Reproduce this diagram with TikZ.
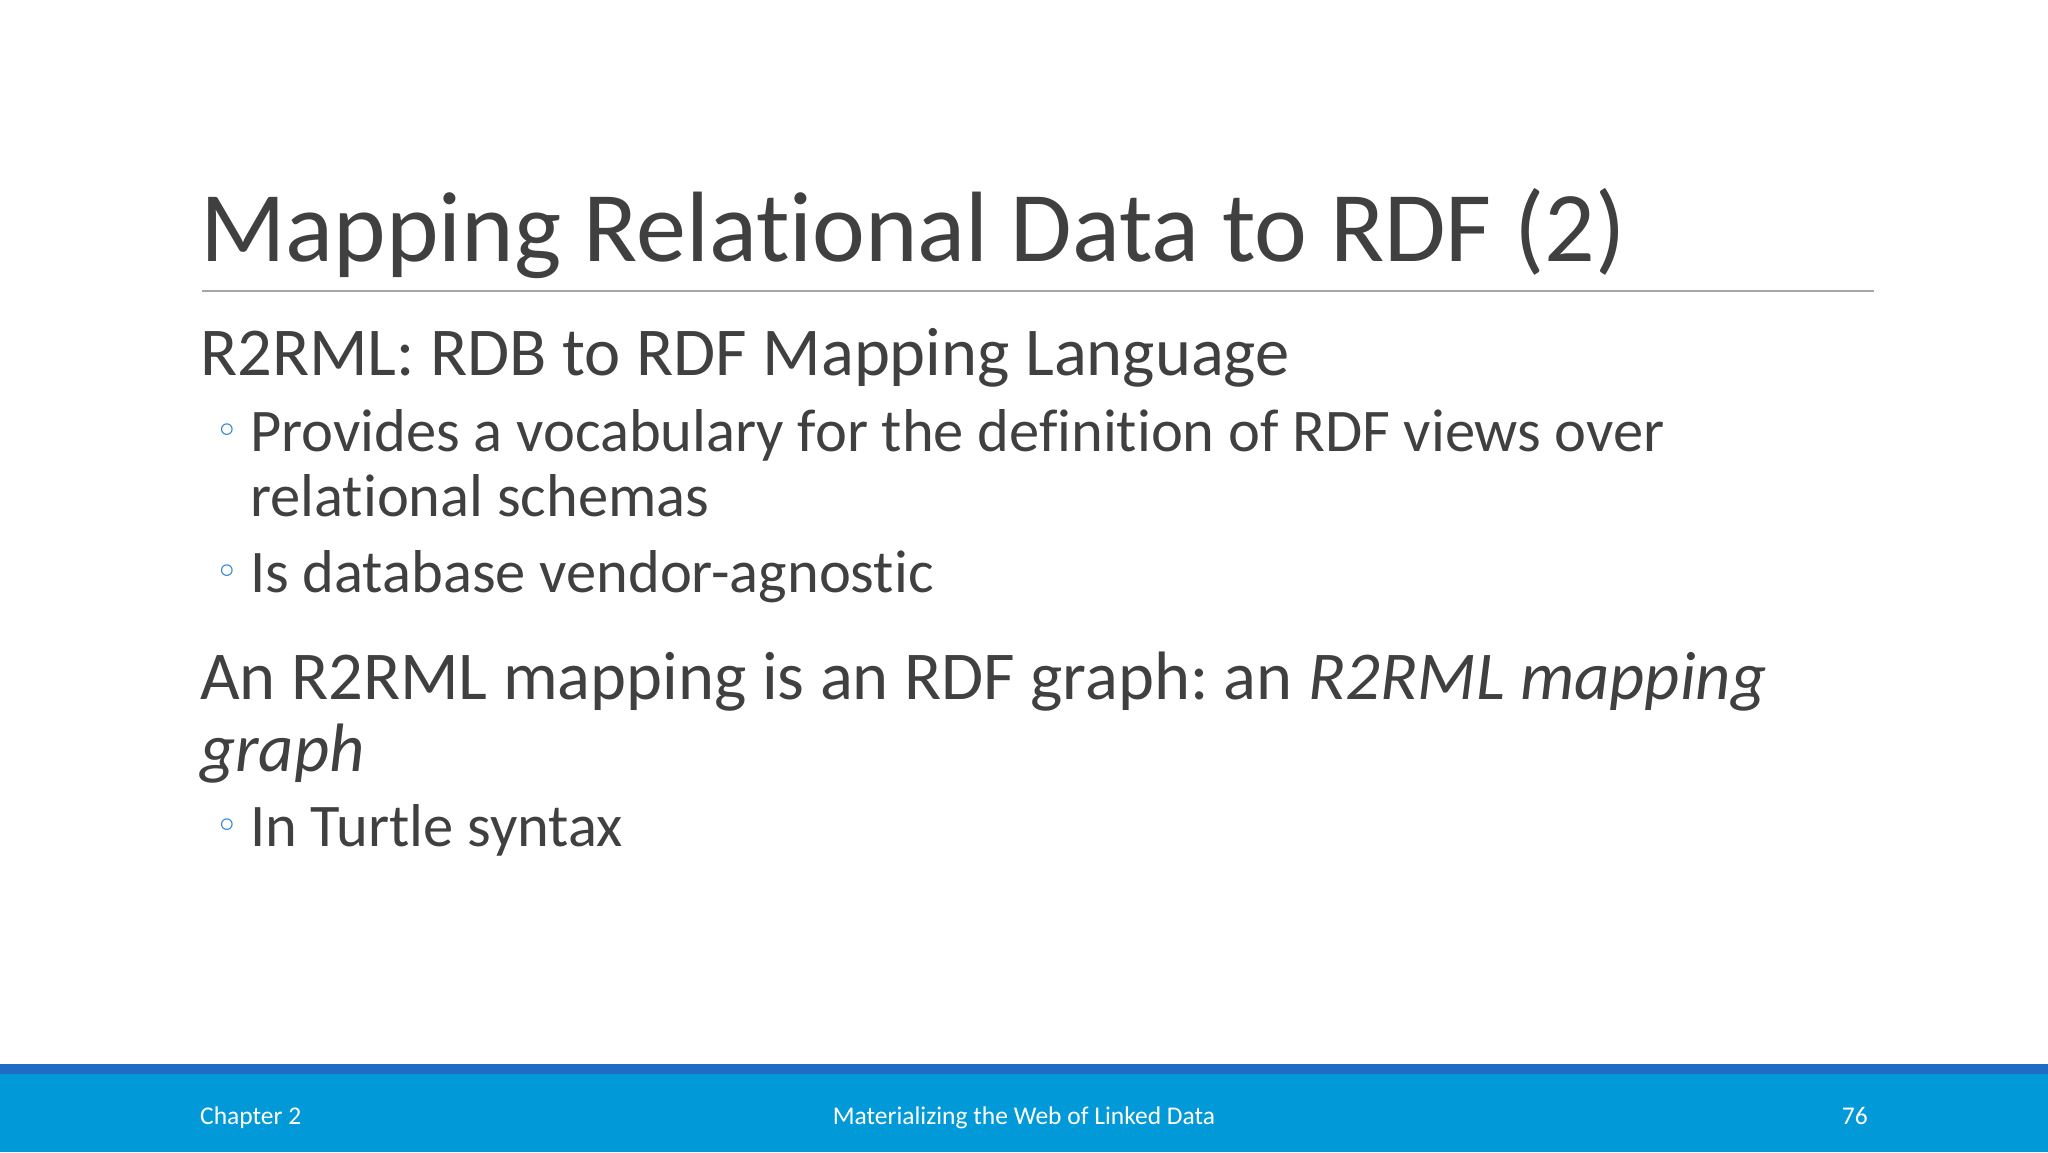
\documentclass[tikz,border=0pt]{standalone}
\usepackage{fontspec}
\setmainfont[Ligatures=NoCommon]{Carlito}
\newfontfamily\symf{DejaVu Sans}
\definecolor{txt}{HTML}{404040}
\definecolor{bul}{HTML}{2A7FCF}
\definecolor{band}{HTML}{0299D8}
\definecolor{bandtop}{HTML}{1F6CC4}
\frenchspacing
\begin{document}
\begin{tikzpicture}[x=1pt,y=-1pt,
  lone/.style={anchor=base west,inner sep=0,text=txt,font=\fontsize{68.5}{82}\selectfont},
  ltwo/.style={anchor=base west,inner sep=0,text=txt,font=\fontsize{60.5}{73}\selectfont},
  bulnode/.style={anchor=base west,inner sep=0,text=bul,font=\symf\fontsize{40}{48}\selectfont},
  foot/.style={anchor=base,inner sep=0,text=white,font=\fontsize{25.5}{30}\selectfont}]
\useasboundingbox (0,0) rectangle (2048,1152);
\fill[white] (0,0) rectangle (2048,1152);
\fill[band] (0,1064) rectangle (2048,1152);
\fill[bandtop] (0,1064) rectangle (2048,1074);
\node[anchor=base west,inner sep=0,text=txt,font=\fontsize{100}{120}\selectfont] (title) at (200,261) {Mapping Relational Data to RDF (2)};
\coordinate (rl) at (202,291); \coordinate (rr) at (1874,291);
\draw[gray!70,line width=1.5pt] (rl) -- (rr);
\node[lone] (a) at (200,375) {R2RML: RDB to RDF Mapping Language};
\node[bulnode] (b1) at (215,444) {◦};
\node[ltwo] (a1) at (250,451) {Provides a vocabulary for the definition of RDF views over};
\node[ltwo] (a1b) at (250,516) {relational schemas};
\node[bulnode] (b2) at (215,585) {◦};
\node[ltwo] (a2) at (250,592) {Is database vendor-agnostic};
\node[lone] (c) at (200,699) {An R2RML mapping is an RDF graph: an \textit{R2RML mapping}};
\node[lone] (cb) at (200,771) {\textit{graph}};
\node[bulnode] (b3) at (215,839) {◦};
\node[ltwo] (c1) at (250,846) {In Turtle syntax};
\node[foot,anchor=base west] (f1) at (200,1124) {Chapter 2};
\node[foot] (f2) at (1024,1124) {Materializing the Web of Linked Data};
\node[foot,anchor=base east] (f3) at (1868,1124) {76};
\end{tikzpicture}
\end{document}
